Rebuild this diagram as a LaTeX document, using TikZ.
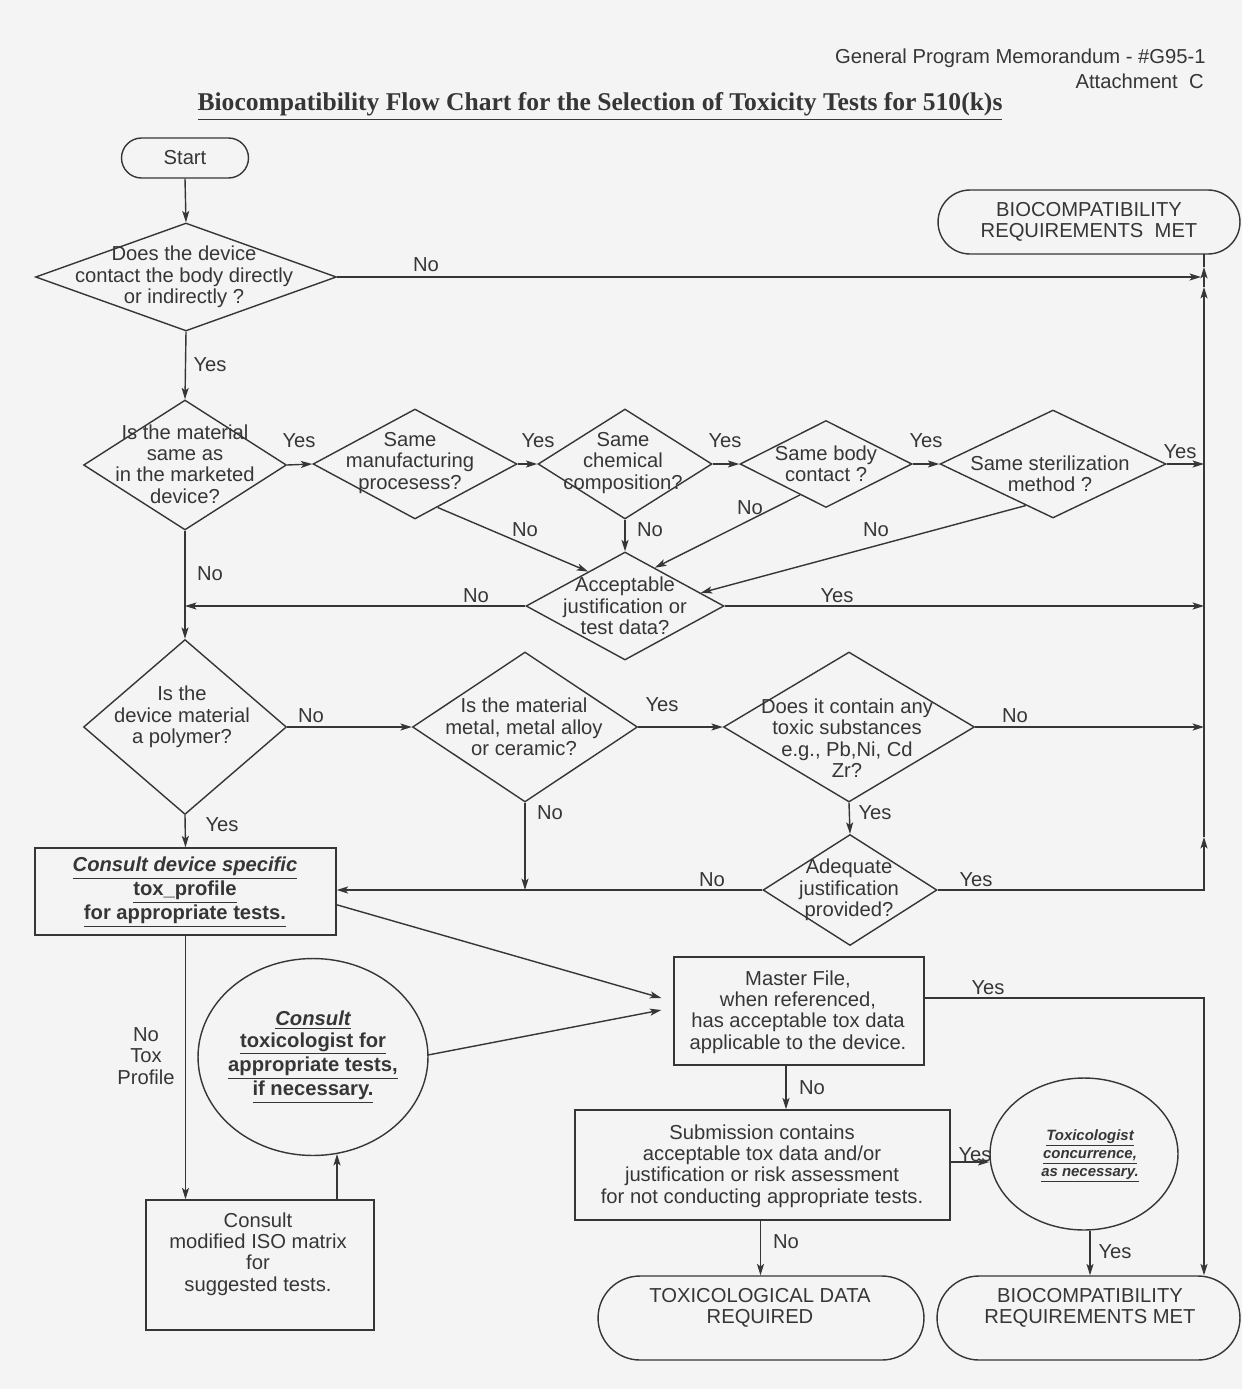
\documentclass[tikz,border=0pt]{standalone}
\usepackage{fontspec}
\setmainfont{Liberation Sans}
\newfontfamily\serifttl{Liberation Serif}
\usetikzlibrary{shapes.geometric,arrows.meta,calc}
\definecolor{ink}{HTML}{363636}
\definecolor{paper}{HTML}{F4F4F4}
\begin{document}
\begin{tikzpicture}[x=0.02cm,y=-0.02cm,
  txt/.style={align=center,inner sep=0pt,text=ink,font=\fontsize{11.5}{12.2}\selectfont},
  lbl/.style={txt},
  dia/.style 2 args={diamond,draw=ink,line width=0.8pt,inner sep=0pt,minimum width=#1,minimum height=#2},
  boxx/.style 2 args={rectangle,draw=ink,line width=0.8pt,inner sep=0pt,minimum width=#1,minimum height=#2},
  term/.style n args={3}{rectangle,rounded corners=#3,draw=ink,line width=0.8pt,inner sep=0pt,minimum width=#1,minimum height=#2},
  oval/.style 2 args={ellipse,draw=ink,line width=0.8pt,inner sep=0pt,minimum width=#1,minimum height=#2},
  conn/.style={draw=ink,line width=0.8pt},
  arr/.style={conn,-{Stealth[length=6.5pt,width=4pt,inset=1.5pt]}}
]
\fill[paper] (0,0) rectangle (1242,1389);
\useasboundingbox (0,0) rectangle (1242,1389);

% header and title
\node[txt,anchor=east] (hdr1) at (1206,58) {General Program Memorandum - \#G95-1};
\node[txt,anchor=east] (hdr2) at (1204,81) {Attachment\ \ C};
\node[inner sep=0pt,text=ink] (ttl) at (600,107) {\resizebox{16.1cm}{!}{\serifttl\bfseries\underline{Biocompatibility Flow Chart for the Selection of Toxicity Tests for 510(k)s}}};

% shapes
\node[term={2.54cm}{0.80cm}{0.40cm}] (st) at (185,158) {};
\node[txt] (stt) at (st) {Start};
\node[term={6.04cm}{1.28cm}{0.64cm}] (t1) at (1089,222) {};
\node[txt] (t1t) at (1089,222) {BIOCOMPATIBILITY\\REQUIREMENTS\ \ MET};

\node[dia={6.02cm}{2.16cm}] (d1) at (186,277) {};
\node[txt] (d1t) at (184,277) {Does the device\\contact the body directly\\or indirectly ?};
\node[dia={4.06cm}{2.60cm}] (d2) at (185,465) {};
\node[txt] (d2t) at (185,464) {Is the material\\same as\\in the marketed\\device?};
\node[dia={4.08cm}{2.20cm}] (d3) at (415,464) {};
\node[txt] (d3t) at (410,463) {Same\\manufacturing\\procesess?};
\node[dia={3.48cm}{2.20cm}] (d4) at (625,464) {};
\node[txt] (d4t) at (623,463) {Same\\chemical\\composition?};
\node[dia={3.44cm}{1.74cm}] (d5) at (826,464) {};
\node[txt] (d5t) at (826,464) {Same body\\contact ?};
\node[dia={4.52cm}{2.16cm}] (d6) at (1053,464) {};
\node[txt] (d6t) at (1050,474) {Same sterilization\\method ?};
\node[dia={3.96cm}{2.16cm}] (d7) at (625,606) {};
\node[txt] (d7t) at (625,606) {Acceptable\\justification or\\test data?};
\node[dia={4.06cm}{3.50cm}] (d8) at (185,727) {};
\node[txt] (d8t) at (182,717) {Is the\\device material\\a polymer?};
\node[dia={4.50cm}{3.00cm}] (d9) at (525,727) {};
\node[txt] (d9t) at (524,727) {Is the material\\metal, metal alloy\\or ceramic?};
\node[dia={5.02cm}{3.00cm}] (d10) at (849,727) {};
\node[txt] (d10t) at (847,738) {Does it contain any\\toxic substances\\e.g., Pb,Ni, Cd\\Zr?};
\node[dia={3.48cm}{2.22cm}] (d11) at (850,890) {};
\node[txt] (d11t) at (849,890) {Adequate\\justification\\provided?};

\node[boxx={6.02cm}{1.74cm}] (b1) at (185.5,891.5) {};
\node[txt,font=\fontsize{11.5}{12.2}\selectfont\bfseries] (b1t) at (185,892) {\underline{\itshape Consult device specific}\\\underline{tox\_profile}\\\underline{for appropriate tests.}};
\node[oval={4.60cm}{3.94cm}] (c1) at (313,1057) {};
\node[txt,font=\fontsize{11.5}{12.2}\selectfont\bfseries] (c1t) at (313,1057) {\underline{\itshape Consult}\\\underline{toxicologist for}\\\underline{appropriate tests,}\\\underline{if necessary.}};
\node[boxx={4.56cm}{2.60cm}] (b2) at (260,1265) {};
\node[txt] (b2t) at (258,1254) {Consult\\modified ISO matrix\\for\\suggested tests.};
\node[boxx={5.00cm}{2.16cm}] (b3) at (799,1011) {};
\node[txt] (b3t) at (798,1012) {Master File,\\when referenced,\\has acceptable tox data\\applicable to the device.};
\node[boxx={7.50cm}{2.20cm}] (b4) at (762.5,1165) {};
\node[txt] (b4t) at (762,1166) {Submission contains\\acceptable tox data and/or\\justification or risk assessment\\for not conducting appropriate tests.};
\node[oval={3.76cm}{3.04cm}] (c2) at (1084,1154) {};
\node[txt,font=\fontsize{8.5}{10.2}\selectfont\bfseries\itshape] (c2t) at (1090,1156) {\underline{Toxicologist}\\\underline{concurrence,}\\\underline{as necessary.}};
\node[term={6.52cm}{1.68cm}{0.84cm}] (t2) at (761,1318) {};
\node[txt] (t2t) at (760,1308) {TOXICOLOGICAL DATA\\REQUIRED};
\node[term={6.06cm}{1.68cm}{0.84cm}] (t3) at (1088.5,1318) {};
\node[txt] (t3t) at (1090,1308) {BIOCOMPATIBILITY\\REQUIREMENTS MET};

% bus coordinates
\coordinate (busb) at (1204,890);
\coordinate (busa) at (1204,837);
\coordinate (busc) at (1204,287);
\coordinate (busd) at (1204,267);
\coordinate (bust) at (1204,254);
\coordinate (d1end) at (1201,277);

% helper coordinates on shapes
\coordinate (b3y) at ($(b3.east)+(0,-13)$);
\coordinate (b3n) at ($(b3.south)+(-13,0)$);
\coordinate (b4n) at ($(b4.south)+(-2,0)$);
\coordinate (b4y) at ($(b4.east)+(0,-3)$);
\coordinate (c2y) at ($(c2.south)+(6,0)$);
\coordinate (b2u) at ($(b2.north)+(77,0)$);
\coordinate (c1b) at ($(c1.center)+(24,97)$);
\coordinate (c1e) at ($(c1.center)+(115,-2)$);
\coordinate (b3a) at ($(b3.west)+(-12,-13)$);
\coordinate (b3b) at ($(b3.west)+(-12,-1)$);
\coordinate (b1e) at ($(b1.north east)!0.65!(b1.south east)$);

% connectors
\draw[arr] (st.south) -- (d1.north);
\draw[arr] (d1.east) -- (d1end);
\draw[arr] (d1.south) -- (d2.north);
\draw[arr] (d2.east) -- (d3.west);
\draw[arr] (d3.east) -- (d4.west);
\draw[arr] (d4.east) -- (d5.west);
\draw[arr] (d5.east) -- (d6.west);
\draw[arr] (d6.east) -- (d6.east -| busb);
\draw[arr] (d4.south) -- (d7.north);
\draw[arr] ($(d3.east)!0.78!(d3.south)$) -- ($(d7.north)!0.37!(d7.west)$);
\draw[arr] ($(d5.south)!0.3!(d5.west)$) -- ($(d7.north)!0.3!(d7.east)$);
\draw[arr] ($(d6.south)!0.24!(d6.west)$) -- ($(d7.north)!0.76!(d7.east)$);
\draw[arr] (d7.west) -- (d7.west -| d2.south);
\draw[arr] (d7.east) -- (d7.east -| busb);
\draw[arr] (d2.south) -- (d8.north);
\draw[arr] (d8.east) -- (d9.west);
\draw[arr] (d9.east) -- (d10.west);
\draw[arr] (d10.east) -- (d10.east -| busb);
\draw[arr] (d9.south) -- (d9.south |- d11.west);
\draw[arr] (d10.south) -- (d11.north);
\draw[arr] (d11.west) -- (d11.west -| b1.east);
\draw[arr] (d11.east) -- (busb) -- (busa);
\draw[arr] (busa) -- (busc);
\draw[arr] (busc) -- (busd);
\draw[conn] (busd) -- (bust);
\draw[arr] (d8.south) -- (b1.north);
\draw[arr] (b1e) -- (b3a);
\draw[arr] (c1e) -- (b3b);
\draw[arr] (b1.south) -- (b1.south |- b2.north);
\draw[arr] (b2u) -- (c1b);
\draw[arr] (b3y) -| (t3.north -| busb);
\draw[arr] (b3n) -- (b3n |- b4.north);
\draw[arr] (b4n) -- (b4n |- t2.north);
\draw[arr] (b4y) -- (b4y -| c2.west);
\draw[arr] (c2y) -- (c2y |- t3.north);

% labels
\node[lbl] (l1) at (426,265) {No};
\node[lbl] (l2) at (210,365) {Yes};
\node[lbl] (l3) at (299,441) {Yes};
\node[lbl] (l4) at (538,441) {Yes};
\node[lbl] (l5) at (725,441) {Yes};
\node[lbl] (l6) at (926,441) {Yes};
\node[lbl] (l7) at (1180,452) {Yes};
\node[lbl] (l8) at (525,530) {No};
\node[lbl] (l9) at (650,530) {No};
\node[lbl] (l10) at (750,508) {No};
\node[lbl] (l11) at (876,530) {No};
\node[lbl] (l12) at (210,574) {No};
\node[lbl] (l13) at (476,596) {No};
\node[lbl] (l14) at (837,596) {Yes};
\node[lbl] (l15) at (311,716) {No};
\node[lbl] (l16) at (662,705) {Yes};
\node[lbl] (l17) at (1015,716) {No};
\node[lbl] (l18) at (550,813) {No};
\node[lbl] (l19) at (875,813) {Yes};
\node[lbl] (l20) at (222,825) {Yes};
\node[lbl] (l21) at (712,880) {No};
\node[lbl] (l22) at (976,880) {Yes};
\node[lbl] (l23) at (988,988) {Yes};
\node[lbl] (l24) at (812,1088) {No};
\node[lbl] (l25) at (975,1155) {Yes};
\node[lbl] (l26) at (786,1242) {No};
\node[lbl] (l27) at (1115,1252) {Yes};
\node[lbl] (l28) at (146,1056) {No\\Tox\\Profile};
\end{tikzpicture}
\end{document}
